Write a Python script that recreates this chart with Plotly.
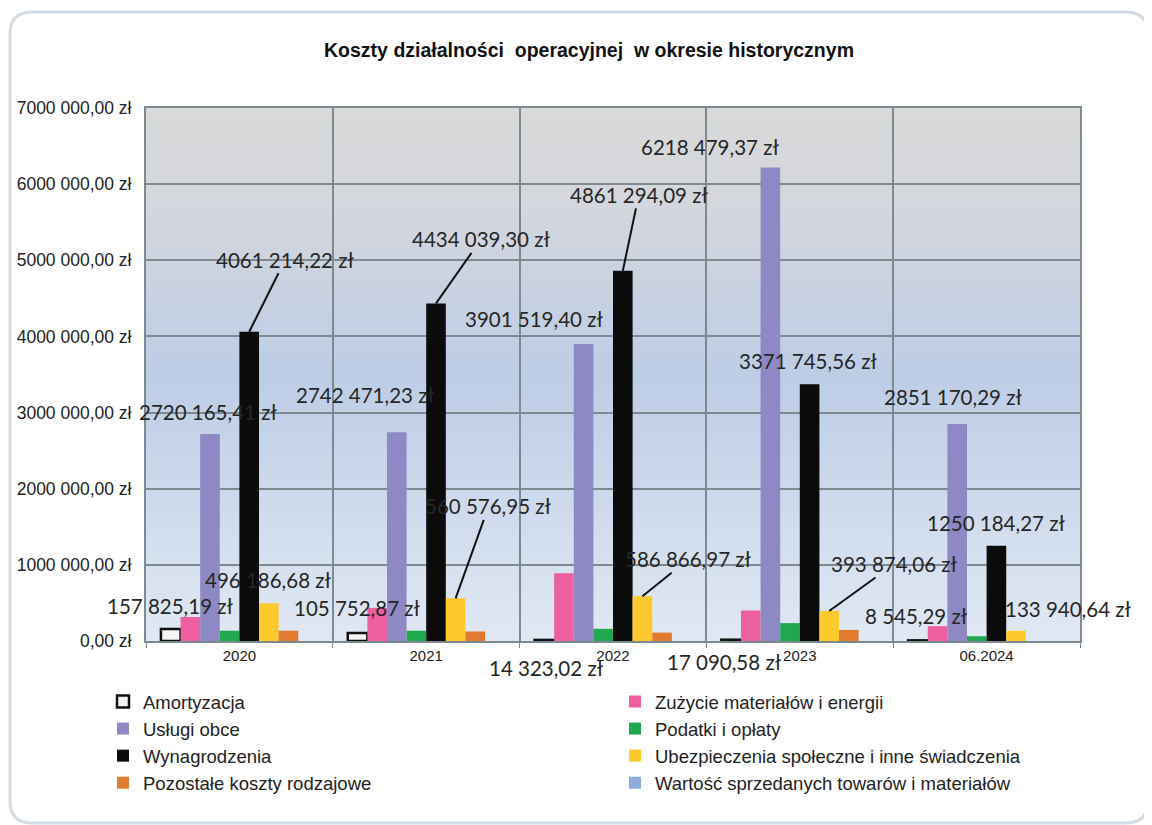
import base64
import plotly.graph_objects as go

# --- data -------------------------------------------------------------
years = ["2020", "2021", "2022", "2023", "06.2024"]

amortyzacja = [157825.19, 105752.87, 14323.02, 17090.58, 8545.29]
zuzycie = [315000, 435000, 890000, 400000, 195000]
uslugi_obce = [2720165.41, 2742471.23, 3901519.40, 6218479.37, 2851170.29]
podatki = [135000, 135000, 160000, 235000, 62000]
wynagrodzenia = [4061214.22, 4434039.30, 4861294.09, 3371745.56, 1250184.27]
ubezpieczenia = [496186.68, 560576.95, 586866.97, 393874.06, 133940.64]
pozostale = [135000, 125000, 110000, 145000, 0]
wartosc_towarow = [0, 0, 0, 0, 0]

y_ticks = [0, 1000000, 2000000, 3000000, 4000000, 5000000, 6000000, 7000000]


def zl(v):
    s = f"{v:.2f}"
    ip, dp = s.split(".")
    if len(ip) > 3:
        ip = ip[:-3] + " " + ip[-3:]
    return f"{ip},{dp} zł"


series = [
    ("Amortyzacja", amortyzacja, "#f4f4f6"),
    ("Zużycie materiałów i energii", zuzycie, "#ee5fa0"),
    ("Usługi obce", uslugi_obce, "#8e88c4"),
    ("Podatki i opłaty", podatki, "#1fa84f"),
    ("Wynagrodzenia", wynagrodzenia, "#0b0b0b"),
    ("Ubezpieczenia społeczne i inne świadczenia", ubezpieczenia, "#fec92c"),
    ("Pozostałe koszty rodzajowe", pozostale, "#e07b30"),
    ("Wartość sprzedanych towarów i materiałów", wartosc_towarow, "#8eaad8"),
]

# label placement (pixel offset of label centre from bar top, leader line?)
label_pos = {
    0: [(0, -23, False), (0, -25, False), (2, 28, False), (-7, 22, False), (-1, -24, False)],
    2: [(-2, -22, False), (-32, -37, False), (-50, -25, False), (-60, -21, False), (-4, -27, False)],
    4: [(36, -72, True), (45, -64, True), (16, -76, True), (-2, -23, False), (0, -23, False)],
    5: [(0, -23, False), (33, -92, True), (46, -37, True), (65, -47, True), (52, -22, False)],
}

OFF = 8  # page body margin
W, H = 1152, 825
L, T = 146 - OFF, 108 - OFF
pw, ph = 934, 533
R, B = W - L - pw, H - T - ph

bargap = 0.16
n = len(series)
w = (1 - bargap) / n

fig = go.Figure()
for i, (name, vals, col) in enumerate(series):
    fig.add_trace(go.Bar(
        x=years, y=vals, name=name,
        legend="legend" if i % 2 == 0 else "legend2",
        marker=dict(color=col,
                    line=dict(color="#111111", width=2.5 if i == 0 else 0)),
    ))

annotations = []
for i, offs in label_pos.items():
    vals = series[i][1]
    for j, (dx, dy, leader) in enumerate(offs):
        annotations.append(dict(
            x=j + (i - (n - 1) / 2) * w, y=vals[j], xref="x", yref="y",
            text=zl(vals[j]), showarrow=True, ax=dx, ay=dy,
            arrowhead=0, arrowwidth=2 if leader else 0.1,
            arrowcolor="#111111" if leader else "rgba(0,0,0,0)",
            font=dict(family="Lato, Open Sans, sans-serif", size=20.5, color="#262626"),
        ))

grad_svg = (
    '<svg xmlns="http://www.w3.org/2000/svg" width="10" height="100" '
    'viewBox="0 0 10 100" preserveAspectRatio="none">'
    '<defs><linearGradient id="g" x1="0" y1="0" x2="0" y2="1">'
    '<stop offset="0" stop-color="#d9d9d9"/>'
    '<stop offset="0.2" stop-color="#d3d6dd"/>'
    '<stop offset="0.5" stop-color="#bdcde6"/>'
    '<stop offset="1" stop-color="#e0e8f3"/>'
    '</linearGradient></defs>'
    '<rect width="10" height="100" fill="url(#g)"/></svg>'
)
grad_src = "data:image/svg+xml;base64," + base64.b64encode(grad_svg.encode()).decode()


# page pixel -> paper units
def px(x):
    return (x - OFF - L) / pw


def py(y):
    return (T + ph + OFF - y) / ph


x0, x1, y0, y1, r = 10, 1148, 12, 823, 22
frame = (f"M {px(x0 + r)},{py(y0)} L {px(x1 - r)},{py(y0)} "
         f"Q {px(x1)},{py(y0)} {px(x1)},{py(y0 + r)} L {px(x1)},{py(y1 - r)} "
         f"Q {px(x1)},{py(y1)} {px(x1 - r)},{py(y1)} L {px(x0 + r)},{py(y1)} "
         f"Q {px(x0)},{py(y1)} {px(x0)},{py(y1 - r)} L {px(x0)},{py(y0 + r)} "
         f"Q {px(x0)},{py(y0)} {px(x0 + r)},{py(y0)} Z")

legend_font = dict(family="Liberation Sans, Arial, sans-serif", size=18.5, color="#222222")

fig.update_layout(
    width=W, height=H,
    margin=dict(l=L, r=R, t=T, b=B, autoexpand=False),
    paper_bgcolor="white", plot_bgcolor="rgba(0,0,0,0)",
    barmode="group", bargap=bargap, bargroupgap=0,
    font=dict(family="Liberation Sans, Arial, sans-serif", color="#222222"),
    title=dict(text="<b>Koszty działalności  operacyjnej  w okresie historycznym</b>",
               xref="paper", x=px(589), xanchor="center",
               yref="container", y=1 - (50 - OFF) / H, yanchor="middle",
               font=dict(size=19.5, color="#111111")),
    annotations=annotations,
    images=[dict(source=grad_src, xref="paper", yref="paper", x=0, y=1,
                 sizex=1, sizey=1, xanchor="left", yanchor="top",
                 sizing="stretch", layer="below")],
    shapes=[dict(type="path", xref="paper", yref="paper", path=frame,
                 line=dict(color="#d3dbe3", width=3), layer="below")],
    legend=dict(x=px(103), y=py(683), xanchor="left", yanchor="top",
                traceorder="normal", font=legend_font, bgcolor="rgba(0,0,0,0)"),
    legend2=dict(x=px(615), y=py(683), xanchor="left", yanchor="top",
                 traceorder="normal", font=legend_font, bgcolor="rgba(0,0,0,0)"),
    showlegend=True,
)

fig.update_xaxes(
    type="category", range=[-0.5, len(years) - 0.5],
    tickson="boundaries", ticks="outside", ticklen=5,
    tickcolor="#7d8a8f", showgrid=True, gridcolor="#7d8a8f", gridwidth=2,
    showline=True, linecolor="#7d8a8f", linewidth=2, mirror=True,
    tickfont=dict(size=15, color="#222222"),
)
fig.update_yaxes(
    range=[0, 7000000], tickvals=y_ticks, ticktext=[zl(v) for v in y_ticks],
    showgrid=True, gridcolor="#7d8a8f", gridwidth=2,
    showline=True, linecolor="#7d8a8f", linewidth=2, mirror=True,
    ticks="", ticklabelstandoff=9, zeroline=False,
    tickfont=dict(size=17.5, color="#222222"),
)

fig.write_html("out.html")
